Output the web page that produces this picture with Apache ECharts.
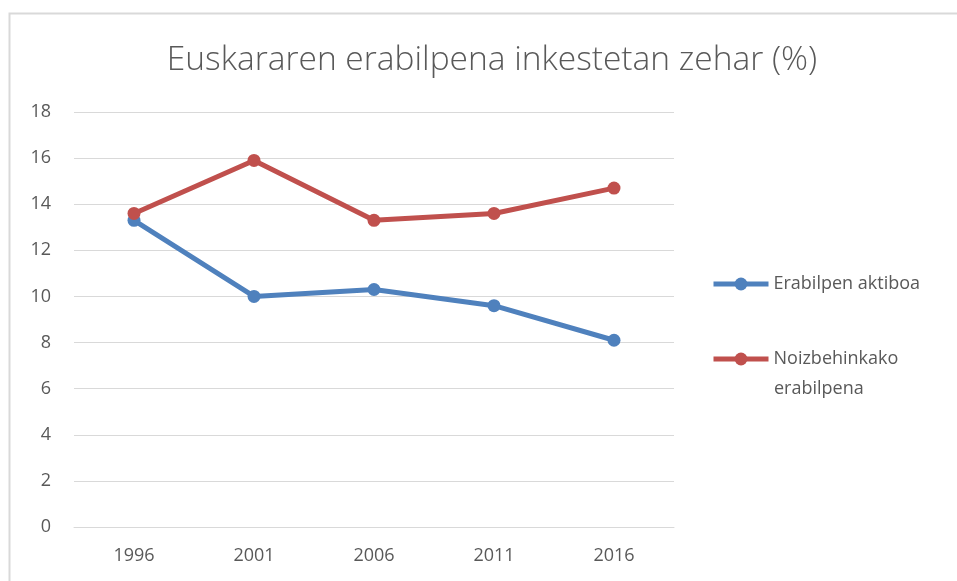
<!DOCTYPE html>
<html>
<head>
<meta charset="utf-8">
<script src="https://cdn.jsdelivr.net/npm/echarts@6/dist/echarts.min.js"></script>
<style>
html,body{margin:0;padding:0;background:#fff;}
#c{width:957px;height:581px;}
</style>
</head>
<body>
<div id="c"></div>
<script>
const categories = ['1996', '2001', '2006', '2011', '2016'];
const erabilpenAktiboa = [13.3, 10.0, 10.3, 9.6, 8.1];
const noizbehinkako = [13.6, 15.9, 13.3, 13.6, 14.7];
const seriesNames = ['Erabilpen aktiboa', 'Noizbehinkako erabilpena'];
const legendLine1 = ['Erabilpen aktiboa', 'Noizbehinkako'];
const legendLine2 = 'erabilpena';
const titleText = 'Euskararen erabilpena inkestetan zehar (%)';

const chart = echarts.init(document.getElementById('c'), null, {renderer: 'canvas'});
const font = '"Open Sans", "Noto Sans", sans-serif';
const legendBase = {
  orient: 'vertical',
  left: 711,
  padding: 0,
  itemWidth: 55,
  itemHeight: 16,
  itemGap: 5,
  lineStyle: {width: 5},
  textStyle: {fontFamily: font, fontSize: 18, color: '#595959', lineHeight: 16}
};
chart.setOption({
  animation: false,
  backgroundColor: '#fff',
  graphic: [{
    type: 'polyline',
    shape: {points: [[9.5, 590], [9.5, 13.5], [970, 13.5]]},
    style: {stroke: '#d9d9d9', lineWidth: 2, fill: null},
    silent: true
  }, {
    type: 'text',
    left: 774,
    top: 380,
    style: {text: legendLine2, fontFamily: font, fontSize: 18, fill: '#595959'},
    silent: true
  }],
  title: {
    text: titleText,
    left: 487,
    textAlign: 'center',
    top: 38,
    textStyle: {fontFamily: font, fontSize: 33.5, fontWeight: 300, color: '#595959'}
  },
  legend: [
    Object.assign({}, legendBase, {top: 275, data: [seriesNames[0]], formatter: () => legendLine1[0]}),
    Object.assign({}, legendBase, {top: 350, data: [seriesNames[1]], formatter: () => legendLine1[1]})
  ],
  grid: {left: 74, right: 283, top: 112, bottom: 54, containLabel: false},
  xAxis: {
    type: 'category',
    data: categories,
    boundaryGap: true,
    axisLine: {show: true, lineStyle: {color: '#d9d9d9', width: 1}},
    axisTick: {show: false},
    axisLabel: {fontFamily: font, fontSize: 18, color: '#595959', margin: 20}
  },
  yAxis: {
    type: 'value',
    min: 0, max: 18, interval: 2,
    axisLine: {show: false},
    axisTick: {show: false},
    axisLabel: {fontFamily: font, fontSize: 18, color: '#595959', margin: 23, align: 'right'},
    splitLine: {lineStyle: {color: '#d9d9d9', width: 1}}
  },
  series: [
    {
      name: seriesNames[0], type: 'line', data: erabilpenAktiboa,
      symbol: 'circle', symbolSize: 13,
      lineStyle: {color: '#4f81bd', width: 5},
      itemStyle: {color: '#4f81bd'}
    },
    {
      name: seriesNames[1], type: 'line', data: noizbehinkako,
      symbol: 'circle', symbolSize: 13,
      lineStyle: {color: '#c0504d', width: 5},
      itemStyle: {color: '#c0504d'}
    }
  ]
});
</script>
</body>
</html>
